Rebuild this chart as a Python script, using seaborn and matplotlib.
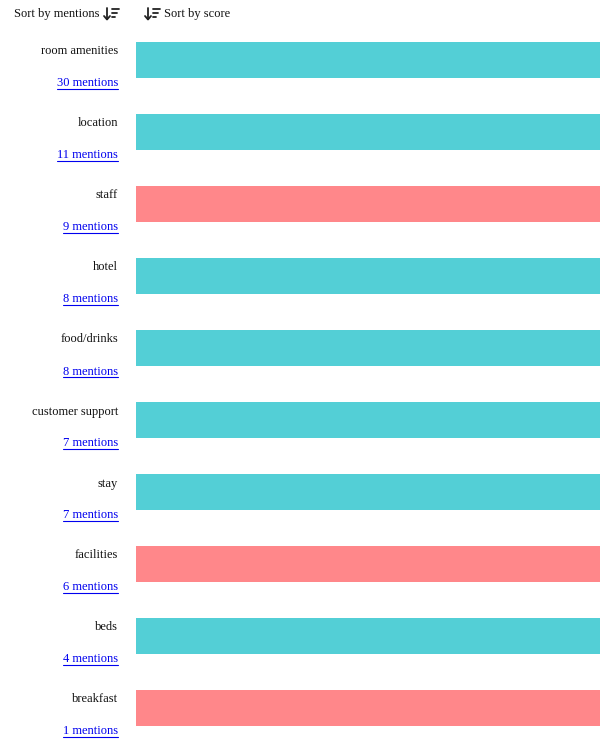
import matplotlib
matplotlib.use("Agg")
import matplotlib.pyplot as plt
import seaborn as sns
import pandas as pd
from matplotlib.lines import Line2D

categories = ["room amenities", "location", "staff", "hotel", "food/drinks",
              "customer support", "stay", "facilities", "beds", "breakfast"]
mentions = [30, 11, 9, 8, 8, 7, 7, 6, 4, 1]
sentiment = ["positive", "positive", "negative", "positive", "positive",
             "positive", "positive", "negative", "positive", "negative"]
score = [1, 1, 1, 1, 1, 1, 1, 1, 1, 1]

palette = {"positive": "#53CFD6", "negative": "#FF878A"}

df = pd.DataFrame({"category": categories, "score": score, "sentiment": sentiment})

sns.set_style("white")
plt.rcParams["font.family"] = ["Liberation Serif", "DejaVu Sans"]

W, H = 600, 746
fig = plt.figure(figsize=(W / 100, H / 100), dpi=100)
ax = fig.add_axes([136 / W, 1 - 743.6 / H, 1 - 136 / W, 720 / H])
sns.barplot(data=df, x="score", y="category", hue="sentiment", palette=palette,
            dodge=False, width=0.5, legend=False, ax=ax, saturation=1, linewidth=0)
ax.set_xlim(0, 1)
ax.set_ylim(9.5, -0.5)
ax.axis("off")

fs = 9
for i, (c, m) in enumerate(zip(categories, mentions)):
    yc = 60 + 72 * i
    fig.text(118 / W, 1 - (yc - 8.5) / H, c, ha="right", va="center", fontsize=fs, color="#111111")
    t = fig.text(118 / W, 1 - (yc + 23.5) / H, f"{m} mentions", ha="right", va="center",
                 fontsize=fs, color="#0000EE")
    t._underline = True

# headers
fig.text(14 / W, 1 - 14 / H, "Sort by mentions", ha="left", va="center", fontsize=fs, color="#111111")
fig.text(164 / W, 1 - 14 / H, "Sort by score", ha="left", va="center", fontsize=fs, color="#111111")


def sort_icon(x0, y0):
    # down arrow
    fig.add_artist(Line2D([(x0 + 3) / W, (x0 + 3) / W], [1 - (y0 - 6) / H, 1 - (y0 + 5) / H],
                          color="#222222", lw=1.3, transform=fig.transFigure))
    fig.add_artist(Line2D([(x0) / W, (x0 + 3) / W, (x0 + 6) / W],
                          [1 - (y0 + 2) / H, 1 - (y0 + 5.5) / H, 1 - (y0 + 2) / H],
                          color="#222222", lw=1.3, transform=fig.transFigure))
    for k, ln in enumerate([7, 5, 3]):
        yy = y0 - 5 + k * 4
        fig.add_artist(Line2D([(x0 + 8) / W, (x0 + 8 + ln) / W], [1 - yy / H, 1 - yy / H],
                              color="#222222", lw=1.3, transform=fig.transFigure))


sort_icon(104, 14)
sort_icon(145, 14)

fig.canvas.draw()
r = fig.canvas.get_renderer()
for t in fig.texts:
    if getattr(t, "_underline", False):
        bb = t.get_window_extent(r).transformed(fig.transFigure.inverted())
        y = bb.y0 + 1.0 / H
        fig.add_artist(Line2D([bb.x0, bb.x1], [y, y], color="#0000EE", lw=0.8,
                              transform=fig.transFigure))

fig.savefig("out.png", dpi=100)
